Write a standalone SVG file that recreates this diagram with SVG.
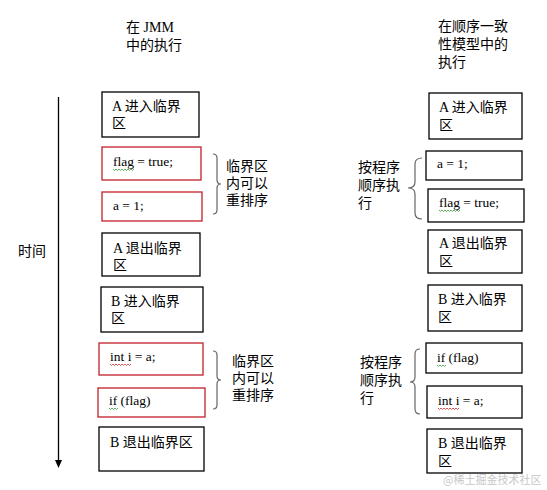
<svg xmlns="http://www.w3.org/2000/svg" width="547" height="490" viewBox="0 0 547 490">
<style>
.b{fill:#fff;stroke:#000;stroke-width:1.3}
.r{fill:#fff;stroke:#c0202a;stroke-width:1.3}
.t{font-family:"Liberation Serif","Noto Sans CJK SC",serif;font-size:14px;fill:#000}
.c{font-family:"Liberation Serif",serif;font-size:13.5px;fill:#000}
.br{fill:none;stroke:#666;stroke-width:1.2}
.wg{fill:none;stroke:#3a9a3a;stroke-width:0.8}
.wr{fill:none;stroke:#d03030;stroke-width:0.8}
.wm{font-family:"Noto Sans CJK SC",sans-serif;font-size:11px;fill:#c8c8c8}
</style>
<rect width="547" height="490" fill="#fff"/>
<g id="titles">
<text class="t" x="126" y="32">在 JMM</text>
<text class="t" x="126" y="50">中的执行</text>
<text class="t" x="438" y="31">在顺序一致</text>
<text class="t" x="438" y="49">性模型中的</text>
<text class="t" x="438" y="67">执行</text>
<text class="t" x="18" y="256">时间</text>
</g>
<g id="connectors">
<line x1="58.5" y1="97" x2="58.5" y2="461" stroke="#000" stroke-width="1.3"/>
<polygon points="55,460 62,460 58.5,468" fill="#000"/>
<path class="br" d="M213,154 q4,0 4,4 v22 q0,4 4,4 q-4,0 -4,4 v22 q0,4 -4,4"/>
<path class="br" d="M213,351 q4,0 4,4 v21 q0,4 4,4 q-4,0 -4,4 v21 q0,4 -4,4"/>
<path class="br" d="M422,158 q-7,0 -7,6 v18 q0,6 -7,6 q7,0 7,6 v19 q0,6 7,6"/>
<path class="br" d="M420,349 q-5,0 -5,5 v23 q0,5 -5,5 q5,0 5,5 v22 q0,5 5,5"/>
</g>
<g id="labels">
<text class="t" x="226" y="171">临界区</text>
<text class="t" x="226" y="188">内可以</text>
<text class="t" x="226" y="205">重排序</text>
<text class="t" x="232" y="366">临界区</text>
<text class="t" x="232" y="383">内可以</text>
<text class="t" x="232" y="400">重排序</text>
<text class="t" x="358" y="172">按程序</text>
<text class="t" x="358" y="190">顺序执</text>
<text class="t" x="358" y="208">行</text>
<text class="t" x="360" y="367">按程序</text>
<text class="t" x="360" y="385">顺序执</text>
<text class="t" x="360" y="403">行</text>
</g>
<g id="L1"><rect class="b" x="102" y="92" width="97" height="45"/><text class="t" x="112" y="111">A 进入临界</text><text class="t" x="112" y="128">区</text></g>
<g id="L2"><rect class="r" x="102" y="147" width="99" height="33"/><text class="c" x="113" y="166">flag = true;</text><path class="wg" d="M113,169 l1.5,1.5 l1.5,-1.5 l1.5,1.5 l1.5,-1.5 l1.5,1.5 l1.5,-1.5 l1.5,1.5 l1.5,-1.5 l1.5,1.5 l1.5,-1.5 l1.5,1.5 l1.5,-1.5 l1.5,1.5 l1.5,-1.5"/></g>
<g id="L3"><rect class="r" x="102" y="192" width="100" height="29"/><text class="c" x="113" y="210">a = 1;</text></g>
<g id="L4"><rect class="b" x="102" y="233" width="98" height="43"/><text class="t" x="113" y="253">A 退出临界</text><text class="t" x="113" y="270">区</text></g>
<g id="L5"><rect class="b" x="101" y="287" width="102" height="45"/><text class="t" x="111" y="306">B 进入临界</text><text class="t" x="111" y="323">区</text></g>
<g id="L6"><rect class="r" x="99" y="343" width="104" height="32"/><text class="c" x="110" y="361">int i = a;</text><path class="wr" d="M110,364 l1.5,1.5 l1.5,-1.5 l1.5,1.5 l1.5,-1.5 l1.5,1.5 l1.5,-1.5 l1.5,1.5 l1.5,-1.5 l1.5,1.5 l1.5,-1.5 l1.5,1.5 l1.5,-1.5 l1.5,1.5 l1.5,-1.5"/></g>
<g id="L7"><rect class="r" x="98" y="388" width="107" height="29"/><text class="c" x="109" y="405">if (flag)</text><path class="wg" d="M109,408 l1.5,1.5 l1.5,-1.5 l1.5,1.5 l1.5,-1.5 l1.5,1.5 l1.5,-1.5"/></g>
<g id="L8"><rect class="b" x="99" y="427" width="105" height="44"/><text class="t" x="110" y="447">B 退出临界区</text></g>
<g id="R1"><rect class="b" x="429" y="93" width="93" height="46"/><text class="t" x="439" y="112">A 进入临界</text><text class="t" x="439" y="130">区</text></g>
<g id="R2"><rect class="b" x="426" y="151" width="96" height="29"/><text class="c" x="437" y="168">a = 1;</text></g>
<g id="R3"><rect class="b" x="428" y="189" width="96" height="33"/><text class="c" x="439" y="207">flag = true;</text><path class="wg" d="M439,210 l1.5,1.5 l1.5,-1.5 l1.5,1.5 l1.5,-1.5 l1.5,1.5 l1.5,-1.5 l1.5,1.5 l1.5,-1.5 l1.5,1.5 l1.5,-1.5 l1.5,1.5 l1.5,-1.5 l1.5,1.5 l1.5,-1.5"/></g>
<g id="R4"><rect class="b" x="428" y="230" width="94" height="43"/><text class="t" x="439" y="248">A 退出临界</text><text class="t" x="439" y="266">区</text></g>
<g id="R5"><rect class="b" x="428" y="285" width="94" height="46"/><text class="t" x="438" y="304">B 进入临界</text><text class="t" x="438" y="322">区</text></g>
<g id="R6"><rect class="b" x="426" y="343" width="96" height="30"/><text class="c" x="437" y="362">if (flag)</text><path class="wg" d="M437,365 l1.5,1.5 l1.5,-1.5 l1.5,1.5 l1.5,-1.5 l1.5,1.5 l1.5,-1.5"/></g>
<g id="R7"><rect class="b" x="427" y="386" width="95" height="32"/><text class="c" x="438" y="405">int i = a;</text><path class="wr" d="M438,408 l1.5,1.5 l1.5,-1.5 l1.5,1.5 l1.5,-1.5 l1.5,1.5 l1.5,-1.5 l1.5,1.5 l1.5,-1.5 l1.5,1.5 l1.5,-1.5 l1.5,1.5 l1.5,-1.5 l1.5,1.5 l1.5,-1.5"/></g>
<g id="R8"><rect class="b" x="427" y="429" width="95" height="44"/><text class="t" x="438" y="448">B 退出临界</text><text class="t" x="438" y="466">区</text></g>
<text class="wm" x="443" y="484">@稀土掘金技术社区</text>
</svg>
